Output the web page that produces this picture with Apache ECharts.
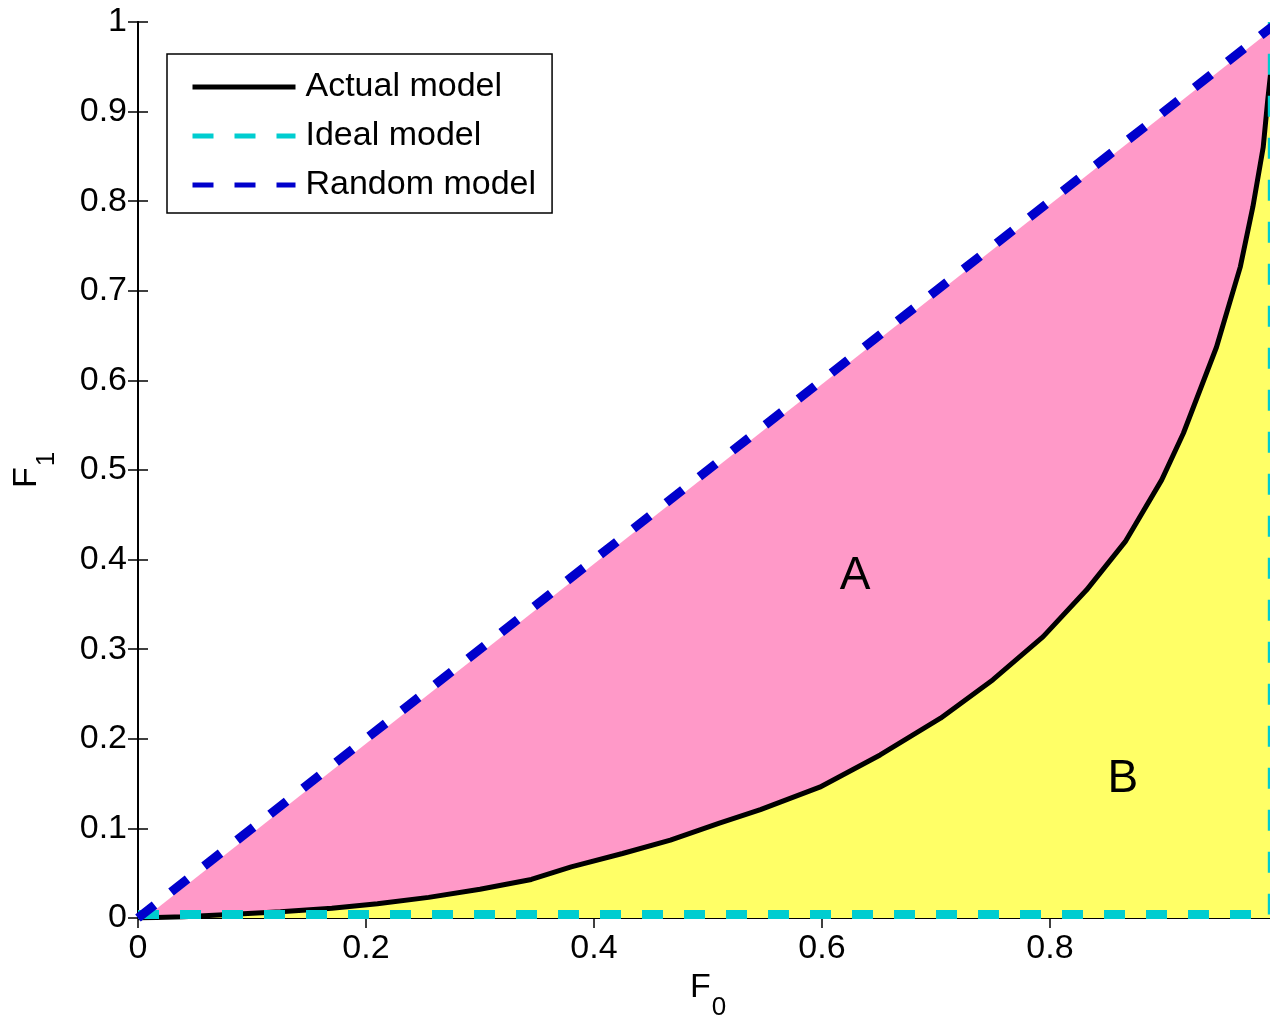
<!DOCTYPE html>
<html>
<head>
<meta charset="utf-8">
<title>F0 - F1 curve</title>
<script src="https://cdn.jsdelivr.net/npm/echarts@6/dist/echarts.min.js"></script>
<style>
	html, body { margin: 0; padding: 0; background: #fff; }
	#chart { width: 1270px; height: 1025px; }
</style>
</head>
<body>
<div id="chart"></div>
<script>
// values: [F0, F1]
var actualCurve = [
	[0, 0], [0.04, 0.0015], [0.08, 0.004], [0.125, 0.007], [0.17, 0.011],
	[0.21, 0.016], [0.255, 0.023], [0.3, 0.032], [0.345, 0.043], [0.38, 0.057],
	[0.425, 0.072], [0.467, 0.087], [0.51, 0.106], [0.546, 0.121], [0.598, 0.146],
	[0.651, 0.182], [0.704, 0.223], [0.75, 0.266], [0.794, 0.314], [0.832, 0.366],
	[0.866, 0.42], [0.898, 0.489], [0.917, 0.541], [0.946, 0.637], [0.967, 0.727],
	[0.978, 0.794], [0.987, 0.86], [0.991, 0.913], [0.995, 0.96]
];
var idealLine = [[0, 0.004], [0.995, 0.004], [0.995, 1]];
var randomLine = [[0, 0], [0.995, 0.995]];
var pinkEdge = [[0.006, 0], [0.995, 0.992]];
var areaLabels = [
	{ name: 'A', value: [0.629, 0.381] },
	{ name: 'B', value: [0.864, 0.155] }
];
var seriesNames = ['Actual model', 'Ideal model', 'Random model'];
var xRange = [0, 1];
var yRange = [0, 1];
var xStep = 0.2;
var yStep = 0.1;

(function() {
	var font = '"Liberation Sans", Arial, Helvetica, sans-serif';
	var dash = [21, 21];
	var myChart = echarts.init(document.getElementById('chart'), null, { renderer: 'canvas' });

	var axisLine = { show: true, lineStyle: { color: '#000', width: 2 } };
	var axisTick = { show: true, inside: true, length: 10, lineStyle: { color: '#000', width: 1.5 } };

	var nameRich = {
		f: { fontSize: 34, fontFamily: font, color: '#000', verticalAlign: 'top' },
		s: { fontSize: 26, fontFamily: font, color: '#000', verticalAlign: 'top', padding: [24, 0, 0, 1] }
	};

	var option = {
		animation: false,
		backgroundColor: '#fff',
		grid: {
			left: 138,
			top: 22,
			width: 1140,
			height: 896,
			containLabel: false,
			outerBoundsMode: 'none'
		},
		legend: {
			data: seriesNames,
			orient: 'vertical',
			left: 167,
			top: 54,
			padding: [16, 16, 11, 23],
			itemGap: 15,
			itemWidth: 103,
			itemHeight: 4,
			backgroundColor: '#fff',
			borderColor: '#000',
			borderWidth: 1.5,
			borderRadius: 0,
			selectedMode: false,
			itemStyle: { opacity: 0 },
			lineStyle: { width: 5 },
			textStyle: {
				fontSize: 34,
				fontFamily: font,
				color: '#000',
				padding: [0, 0, 0, 5]
			}
		},
		xAxis: [{
			type: 'value',
			min: xRange[0],
			max: xRange[1],
			interval: xStep,
			position: 'bottom',
			name: '{f|F}{s|0}',
			nameLocation: 'middle',
			nameGap: 52,
			nameTextStyle: { rich: nameRich },
			axisLine: axisLine,
			axisTick: axisTick,
			axisLabel: {
				fontSize: 34,
				fontFamily: font,
				color: '#000',
				margin: 14,
				showMaxLabel: false
			},
			splitLine: { show: false }
		}, {
			type: 'value',
			min: xRange[0],
			max: xRange[1],
			interval: xStep,
			position: 'top',
			axisLine: axisLine,
			axisTick: axisTick,
			axisLabel: { show: false },
			splitLine: { show: false }
		}],
		yAxis: [{
			type: 'value',
			min: yRange[0],
			max: yRange[1],
			interval: yStep,
			position: 'left',
			name: '{f|F}{s|1}',
			nameLocation: 'middle',
			nameRotate: 90,
			nameGap: 78,
			nameTextStyle: { rich: nameRich },
			axisLine: axisLine,
			axisTick: axisTick,
			axisLabel: {
				fontSize: 34,
				fontFamily: font,
				color: '#000',
				margin: 11
			},
			splitLine: { show: false }
		}, {
			type: 'value',
			min: yRange[0],
			max: yRange[1],
			interval: yStep,
			position: 'right',
			axisLine: axisLine,
			axisTick: axisTick,
			axisLabel: { show: false },
			splitLine: { show: false }
		}],
		series: [{
			// pink region A, under the random line
			type: 'line',
			name: 'areaA',
			data: pinkEdge,
			symbol: 'none',
			silent: true,
			z: 1,
			lineStyle: { width: 0 },
			areaStyle: { color: '#ff99c8', opacity: 1 }
		}, {
			type: 'line',
			name: seriesNames[0],
			data: actualCurve,
			symbol: 'none',
			z: 2,
			lineStyle: { color: '#000', width: 5 },
			itemStyle: { color: '#000' },
			areaStyle: { color: '#ffff66', opacity: 1 }
		}, {
			type: 'line',
			name: seriesNames[1],
			data: idealLine,
			symbol: 'none',
			z: 3,
			lineStyle: { color: '#00cdd0', width: 9, type: dash, cap: 'butt' },
			itemStyle: { color: '#00cdd0' }
		}, {
			type: 'line',
			name: seriesNames[2],
			data: randomLine,
			symbol: 'none',
			z: 4,
			lineStyle: { color: '#0000cc', width: 9, type: dash, cap: 'butt' },
			itemStyle: { color: '#0000cc' }
		}, {
			type: 'scatter',
			name: 'areaLabels',
			data: areaLabels,
			symbolSize: 0,
			silent: true,
			z: 5,
			itemStyle: { opacity: 1, color: '#000' },
			label: {
				show: true,
				position: 'inside',
				formatter: '{b}',
				fontSize: 46,
				fontFamily: font,
				color: '#000',
				opacity: 1
			}
		}]
	};

	myChart.setOption(option);
})();
</script>
</body>
</html>
